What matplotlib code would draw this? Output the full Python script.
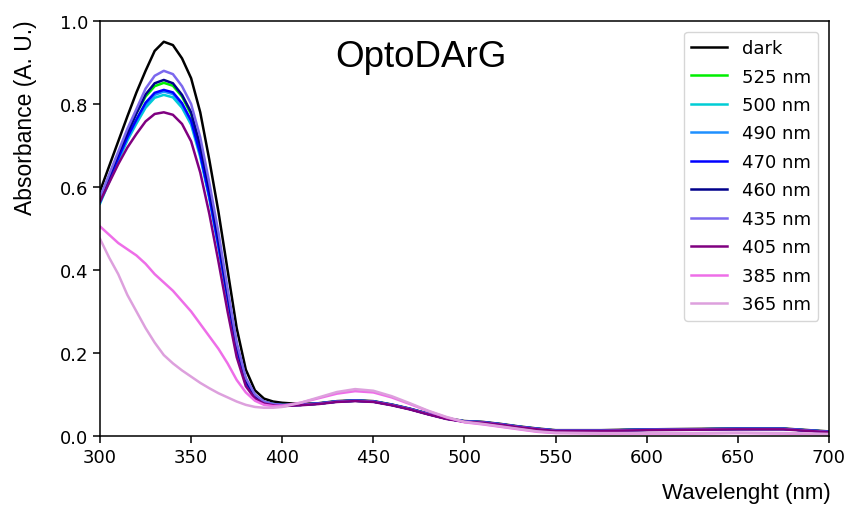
import matplotlib
matplotlib.use('Agg')
import matplotlib.pyplot as plt

# wavelength grid (nm) shared by all spectra
wl = [300, 305, 310, 315, 320, 325, 330, 335, 340, 345, 350, 355, 360, 365, 370,
      375, 380, 385, 390, 395, 400, 410, 420, 430, 440, 450, 460, 470, 480, 490,
      500, 510, 520, 530, 540, 550, 575, 600, 625, 650, 675, 700]

tail_main = [0.075, 0.078, 0.083, 0.085, 0.083, 0.075, 0.065, 0.053, 0.042,
             0.035, 0.033, 0.028, 0.022, 0.017, 0.013, 0.013, 0.015, 0.016, 0.017, 0.017, 0.010]

dark = [0.59, 0.65, 0.71, 0.77, 0.828, 0.88, 0.928, 0.95, 0.942, 0.91, 0.862, 0.78, 0.665,
        0.54, 0.40, 0.26, 0.16, 0.11, 0.09, 0.083, 0.08,
        0.077, 0.079, 0.084, 0.086, 0.084, 0.076, 0.066, 0.054, 0.043,
        0.036, 0.034, 0.029, 0.023, 0.018, 0.014, 0.014, 0.016, 0.017, 0.018, 0.018, 0.011]
nm525 = [0.57, 0.625, 0.68, 0.73, 0.778, 0.818, 0.843, 0.851, 0.844, 0.818, 0.775, 0.695, 0.59,
         0.47, 0.34, 0.215, 0.133, 0.096, 0.082, 0.077, 0.075] + tail_main
nm500 = [0.56, 0.612, 0.663, 0.712, 0.753, 0.791, 0.815, 0.822, 0.816, 0.791, 0.75, 0.672, 0.572,
         0.455, 0.33, 0.208, 0.128, 0.094, 0.08, 0.076, 0.074] + tail_main
nm490 = [0.563, 0.615, 0.668, 0.717, 0.76, 0.798, 0.822, 0.83, 0.824, 0.798, 0.756, 0.677, 0.575,
         0.458, 0.333, 0.21, 0.13, 0.095, 0.081, 0.076, 0.074] + tail_main
nm470 = [0.565, 0.62, 0.67, 0.72, 0.763, 0.803, 0.827, 0.834, 0.828, 0.802, 0.76, 0.68, 0.578,
         0.46, 0.335, 0.212, 0.13, 0.095, 0.081, 0.076, 0.074] + tail_main
nm460 = [0.57, 0.625, 0.68, 0.73, 0.778, 0.823, 0.85, 0.858, 0.85, 0.822, 0.78, 0.70, 0.595,
         0.475, 0.345, 0.22, 0.135, 0.097, 0.082, 0.077, 0.075] + tail_main
nm435 = [0.575, 0.63, 0.685, 0.74, 0.788, 0.837, 0.868, 0.88, 0.872, 0.843, 0.80, 0.72, 0.61,
         0.49, 0.355, 0.225, 0.14, 0.10, 0.083, 0.077, 0.075] + tail_main
nm405 = [0.565, 0.61, 0.655, 0.695, 0.728, 0.758, 0.776, 0.78, 0.774, 0.752, 0.71, 0.635, 0.535,
         0.42, 0.30, 0.19, 0.12, 0.09, 0.078, 0.074, 0.072,
         0.074, 0.077, 0.082, 0.084, 0.082, 0.074, 0.064, 0.052, 0.041,
         0.034, 0.032, 0.027, 0.021, 0.016, 0.012, 0.012, 0.014, 0.015, 0.016, 0.016, 0.009]
nm385 = [0.505, 0.485, 0.465, 0.45, 0.435, 0.415, 0.39, 0.37, 0.35, 0.325, 0.30, 0.27, 0.24,
         0.21, 0.175, 0.135, 0.105, 0.085, 0.075, 0.072, 0.073,
         0.08, 0.091, 0.102, 0.108, 0.105, 0.093, 0.077, 0.06, 0.045,
         0.033, 0.028, 0.022, 0.016, 0.010, 0.007, 0.006, 0.006, 0.006, 0.007, 0.006, 0.004]
nm365 = [0.475, 0.43, 0.39, 0.34, 0.30, 0.26, 0.225, 0.195, 0.175, 0.158, 0.143, 0.128, 0.115,
         0.103, 0.093, 0.083, 0.075, 0.07, 0.068, 0.068, 0.07,
         0.08, 0.093, 0.106, 0.113, 0.109, 0.096, 0.079, 0.061, 0.046,
         0.034, 0.029, 0.023, 0.017, 0.011, 0.008, 0.007, 0.007, 0.007, 0.008, 0.007, 0.005]

labels = ['dark', '525 nm', '500 nm', '490 nm', '470 nm', '460 nm', '435 nm', '405 nm', '385 nm', '365 nm']
series = [dark, nm525, nm500, nm490, nm470, nm460, nm435, nm405, nm385, nm365]
colors = ['black', '#00ee00', '#00cdd5', '#1e90ff', '#0000ff', '#00008b',
          '#7b68ee', '#800080', '#ee6ee8', '#dda0dd']

fig = plt.figure(figsize=(8.49, 5.06), dpi=100)
ax = fig.add_axes([0.1178, 0.1364, 0.8586, 0.8201])

for vals, lab, col in zip(series, labels, colors):
    ax.plot(wl, vals, color=col, lw=1.8, label=lab)

ax.set_xlim(300, 700)
ax.set_ylim(0, 1.0)
ax.set_xticks([300, 350, 400, 450, 500, 550, 600, 650, 700])
ax.set_yticks([0.0, 0.2, 0.4, 0.6, 0.8, 1.0])
ax.tick_params(labelsize=13, length=5, width=1.1)
for s in ax.spines.values():
    s.set_linewidth(1.1)

ax.legend(loc='upper right', fontsize=13, handlelength=2.0, borderaxespad=0.6,
          labelspacing=0.58)

ax.text(0.44, 0.915, 'OptoDArG', transform=ax.transAxes, ha='center', va='center',
        fontsize=26.5, family='Liberation Sans')
fig.text(0.03, 0.768, 'Absorbance (A. U.)', rotation=90, ha='center', va='center',
         fontsize=16.5, family='Liberation Sans')
fig.text(0.978, 0.025, 'Wavelenght (nm)', ha='right', va='center',
         fontsize=16, family='Liberation Sans')

fig.savefig('out.png', dpi=100)
